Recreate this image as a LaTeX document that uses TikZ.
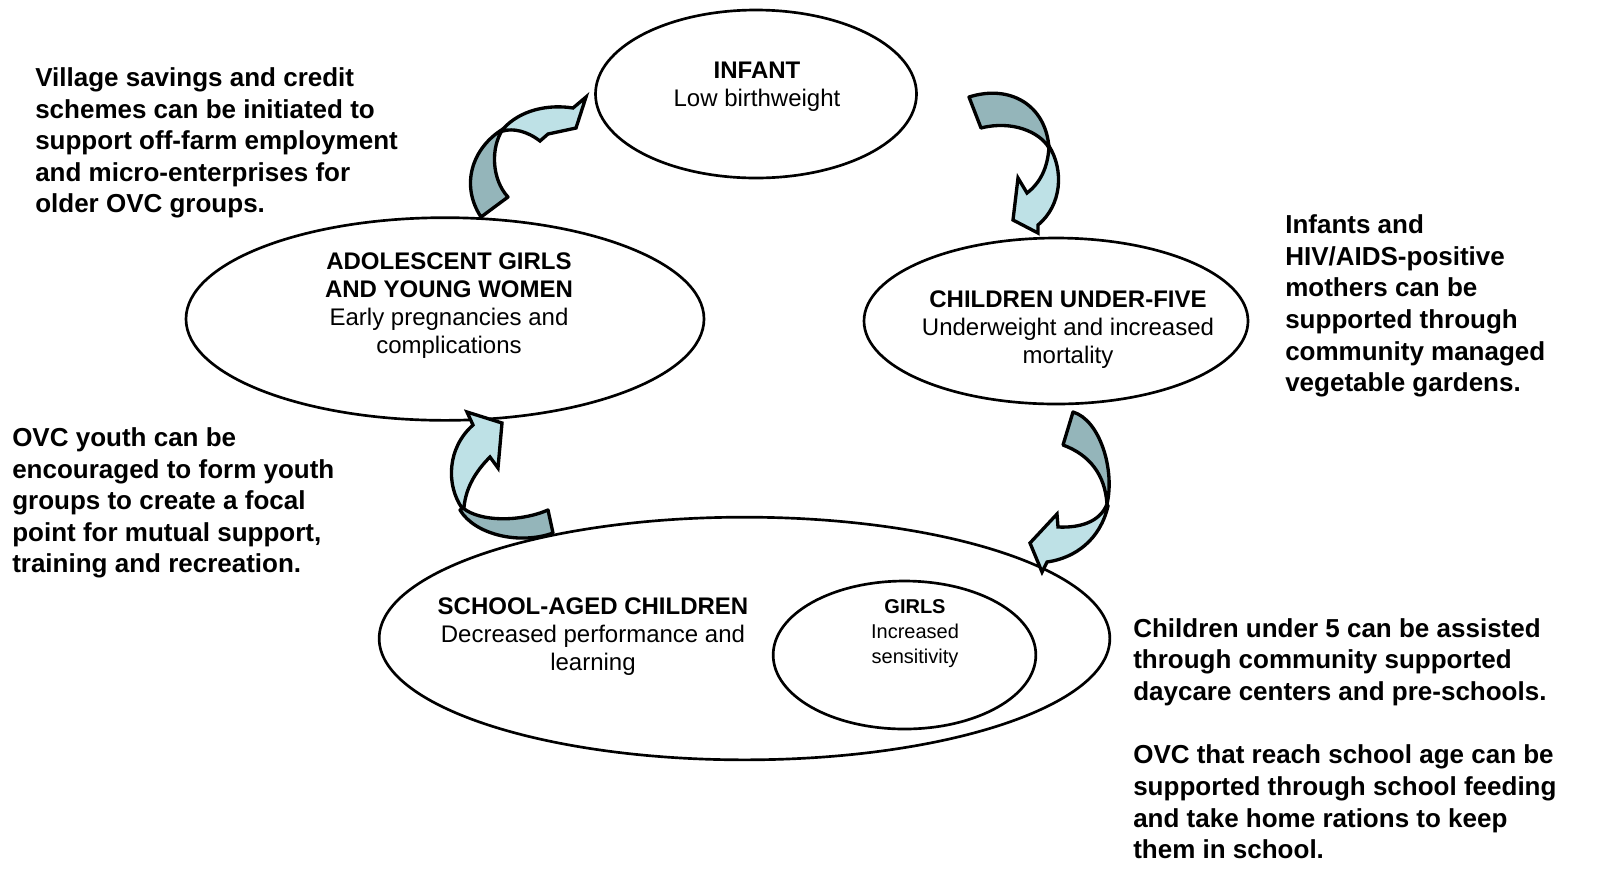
\documentclass[tikz,border=0pt]{standalone}
\usepackage{fontspec}
\setmainfont{Liberation Sans}
\usetikzlibrary{shapes.geometric}
\definecolor{arrdark}{RGB}{148,181,186}
\definecolor{arrlight}{RGB}{190,225,230}
\newcommand{\myside}{\fontsize{19.5}{23.7}\selectfont\bfseries}
\newcommand{\myell}{\fontsize{18}{21}\selectfont}
\newcommand{\mysmall}{\fontsize{15}{18.75}\selectfont}
\tikzset{
  x=0.75pt, y=-0.75pt,
  ell/.style={draw=black, line width=2pt, ellipse, inner sep=0pt, outer sep=0pt},
  backband/.style={fill=arrdark, draw=black, line width=2.5pt, line join=round},
  frontband/.style={fill=arrlight, draw=black, line width=2.5pt, line join=miter, miter limit=4},
  etext/.style={align=center, inner sep=0pt, font=\myell},
  stext/.style={align=left, inner sep=0pt, anchor=west, font=\myside},
}
\begin{document}
\begin{tikzpicture}
\useasboundingbox (0,0) rectangle (1601,876);
% ellipses
\node[ell, minimum width=240.75pt, minimum height=126pt] (infant) at (756,94) {};
\node[ell, minimum width=388.5pt, minimum height=152pt] (adol) at (445,319) {};
\node[ell, minimum width=288pt, minimum height=124.5pt] (under5) at (1056,321) {};
\node[ell, minimum width=548pt, minimum height=182pt] (school) at (744.5,638.5) {};
\node[ell, minimum width=197pt, minimum height=111pt] (girls) at (904.5,655) {};
% ellipse texts
\node[etext] (tinfant) at (757,87) {\textbf{INFANT}\\Low birthweight};
\node[etext] (tadol) at (449,306) {\textbf{ADOLESCENT GIRLS}\\\textbf{AND YOUNG WOMEN}\\Early pregnancies and\\complications};
\node[etext] (tunder5) at (1068,330) {\textbf{CHILDREN UNDER-FIVE}\\Underweight and increased\\mortality};
\node[etext] (tschool) at (593,637) {\textbf{SCHOOL-AGED CHILDREN}\\Decreased performance and\\learning};
\node[etext, font=\mysmall] (tgirls) at (915,634) {\textbf{GIRLS}\\Increased\\sensitivity};
% arrow 1: infant -> under five
\draw[backband] (969,97) .. controls (1010,84) and (1046,105) .. (1049,148)
  .. controls (1040,132) and (1012,120) .. (981,128) -- cycle;
\draw[frontband] (1049,146) .. controls (1064,170) and (1062,205) .. (1038,225)
  -- (1038,233) -- (1013,220) -- (1018,178) -- (1027,193)
  .. controls (1040,183) and (1048,168) .. (1049,146) -- cycle;
% arrow 2: adolescent -> infant
\draw[backband] (481,217) .. controls (460,185) and (472,148) .. (503,129)
  .. controls (490,148) and (492,180) .. (508,197) -- cycle;
\draw[frontband] (503,129) .. controls (520,110) and (548,104) .. (573,108)
  -- (586,97) -- (576,128) -- (548,134) -- (540,141)
  .. controls (527,131) and (513,128) .. (503,131) -- cycle;
% arrow 3: school -> adolescent
\draw[backband] (463,508) .. controls (480,522) and (520,522) .. (548,510)
  -- (553,533) .. controls (520,545) and (475,535) .. (460,510) -- cycle;
\draw[frontband] (462,508) .. controls (446,485) and (447,448) .. (473,425)
  -- (467,412) -- (502,423) -- (498,468) -- (490,457)
  .. controls (475,472) and (466,488) .. (464,507) -- cycle;
% arrow 4: under five -> school
\draw[backband] (1073,412) .. controls (1100,420) and (1115,470) .. (1107,504)
  .. controls (1105,475) and (1090,455) .. (1063,445) -- cycle;
\draw[frontband] (1107,504) .. controls (1100,522) and (1080,528) .. (1058,527)
  -- (1057,514) -- (1030,543) -- (1042,572) -- (1047,562)
  .. controls (1075,558) and (1100,540) .. (1108,506) -- cycle;
% side texts
\node[stext] (s1) at (35,143) {Village savings and credit\\schemes can be initiated to\\support off-farm employment\\and micro-enterprises for\\older OVC groups.};
\node[stext] (s2) at (12,503) {OVC youth can be\\encouraged to form youth\\groups to create a focal\\point for mutual support,\\training and recreation.};
\node[stext] (s3) at (1285,306) {Infants and\\HIV/AIDS-positive\\mothers can be\\supported through\\community managed\\vegetable gardens.};
\node[stext] (s4) at (1133,662) {Children under 5 can be assisted\\through community supported\\daycare centers and pre-schools.};
\node[stext] (s5) at (1133,802) {OVC that reach school age can be\\supported through school feeding\\and take home rations to keep\\them in school.};
\end{tikzpicture}
\end{document}
